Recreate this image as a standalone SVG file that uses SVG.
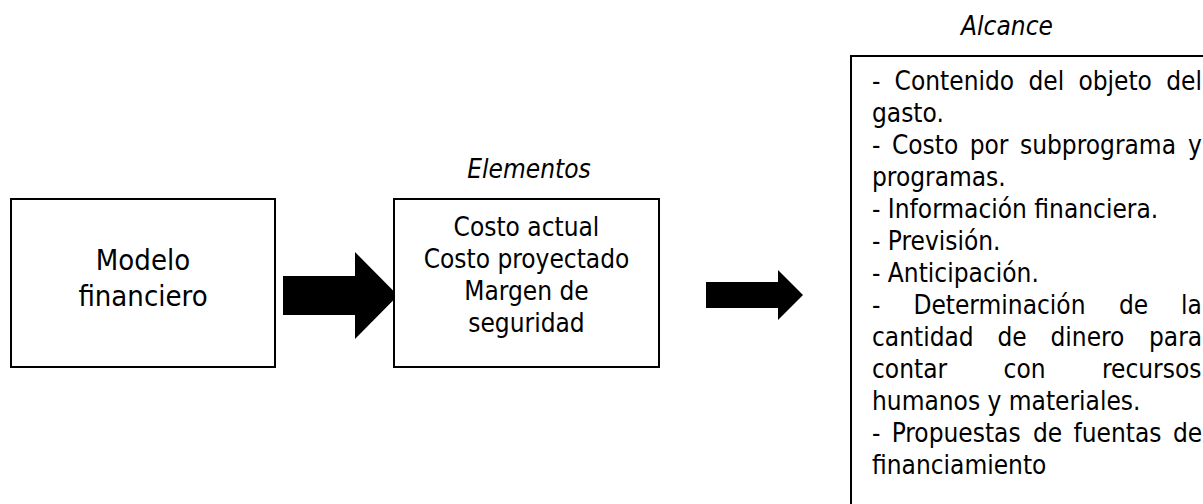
<svg xmlns="http://www.w3.org/2000/svg" width="1203" height="504" viewBox="0 0 1203 504">
<style>
.box{fill:#fff;stroke:#000;stroke-width:2}
.t{font-family:"DejaVu Sans Condensed","DejaVu Sans",sans-serif;font-stretch:condensed;fill:#000}
.c{text-anchor:middle}
.lbl{font-style:italic;font-size:26px}
.b1{font-size:29px}
.b2{font-size:26px}
.b3{font-size:26px}
.arrow{fill:#000}
</style>
<rect width="1203" height="504" fill="#fff"/>
<g id="connectors">
<polygon class="arrow" points="283,276 355,276 355,252 398,295.5 355,339 355,315 283,315"/>
<polygon class="arrow" points="706,282 778,282 778,270 803,295 778,320 778,308 706,308"/>
</g>
<g id="node-modelo">
<rect class="box" x="11" y="199" width="264" height="168"/>
<text class="t c b1" x="143" y="270">Modelo</text>
<text class="t c b1" x="143" y="306">financiero</text>
</g>
<g id="node-elementos">
<text class="t c lbl" x="529" y="178">Elementos</text>
<rect class="box" x="394" y="199" width="265" height="168"/>
<text class="t c b2" x="526.5" y="236">Costo actual</text>
<text class="t c b2" x="526.5" y="268">Costo proyectado</text>
<text class="t c b2" x="526.5" y="300">Margen de</text>
<text class="t c b2" x="526.5" y="332">seguridad</text>
</g>
<g id="node-alcance">
<text class="t c lbl" x="1007" y="35">Alcance</text>
<rect class="box" x="851" y="56" width="400" height="500"/>
<text class="t b3" y="90"><tspan x="872">-</tspan><tspan x="894.6">Contenido</tspan><tspan x="1028.4">del</tspan><tspan x="1078.4">objeto</tspan><tspan x="1166.2">del</tspan></text>
<text class="t b3" x="872" y="122">gasto.</text>
<text class="t b3" y="154"><tspan x="872">-</tspan><tspan x="891.9">Costo</tspan><tspan x="969.7">por</tspan><tspan x="1020">subprograma</tspan><tspan x="1188">y</tspan></text>
<text class="t b3" x="872" y="186">programas.</text>
<text class="t b3" x="872" y="218">- Información financiera.</text>
<text class="t b3" x="872" y="250">- Previsión.</text>
<text class="t b3" x="872" y="282">- Anticipación.</text>
<text class="t b3" y="314"><tspan x="872">-</tspan><tspan x="913.4">Determinación</tspan><tspan x="1119">de</tspan><tspan x="1181">la</tspan></text>
<text class="t b3" y="346"><tspan x="872">cantidad</tspan><tspan x="997.5">de</tspan><tspan x="1050.5">dinero</tspan><tspan x="1149">para</tspan></text>
<text class="t b3" y="378"><tspan x="872">contar</tspan><tspan x="1003.6">con</tspan><tspan x="1102">recursos</tspan></text>
<text class="t b3" x="872" y="410">humanos y materiales.</text>
<text class="t b3" y="442"><tspan x="872">-</tspan><tspan x="891.7">Propuestas</tspan><tspan x="1032.9">de</tspan><tspan x="1073.5">fuentas</tspan><tspan x="1173">de</tspan></text>
<text class="t b3" x="872" y="474">financiamiento</text>
</g>
</svg>
